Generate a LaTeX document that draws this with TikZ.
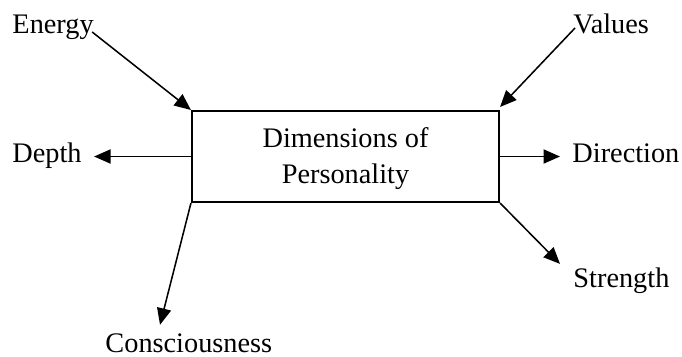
\documentclass[tikz,border=0pt]{standalone}
\usepackage{fontspec}
\setmainfont{Liberation Serif}
\usetikzlibrary{arrows.meta}
\usetikzlibrary{calc}

\tikzset{
  dimbox/.style={draw,line width=0.85pt,minimum width=130.2pt,minimum height=38.6pt,
    align=center,inner sep=0pt,font=\fontsize{12}{15.3}\selectfont},
  dimlabel/.style={inner sep=0pt,anchor=base west,font=\fontsize{12}{14}\selectfont},
  arr/.style={-{Triangle[length=7pt,width=6pt]},line width=0.65pt}
}

\begin{document}
\begin{tikzpicture}[x=0.424pt,y=-0.424pt]
\useasboundingbox (0,0) rectangle (682,356);

\node[dimbox] (box) at (345.5,156.5) {};
\node[align=center,inner sep=0pt,font=\fontsize{12}{15.3}\selectfont] (title) at (345.5,159) {Dimensions of\\Personality};

%labels
\node[dimlabel] (energy) at (12,33) {Energy};
\node[dimlabel] (values) at (573,33) {Values};
\node[dimlabel] (depth) at (12,162) {Depth};
\node[dimlabel] (direction) at (572,162) {Direction};
\node[dimlabel] (strength) at (573,287) {Strength};
\node[dimlabel] (consciousness) at (105,352) {Consciousness};

%arrows
\draw[arr] ($(energy.base east)+(-2,-1)$) -- (box.north west);
\draw[arr] ($(values.base west)+(2,-5)$) -- ($(box.north east)+(0,-3)$);
\draw[arr] (box.west) -- ($(box.west -| depth.east)+(12,0)$);
\draw[arr] (box.east) -- ($(box.east -| direction.west)+(-12,0)$);
\draw[arr] (box.south east) -- ($(strength.north west)+(-13,-3)$);
\draw[arr] (box.south west) -- ($(consciousness.north west)+(55,-8)$);

\end{tikzpicture}
\end{document}
